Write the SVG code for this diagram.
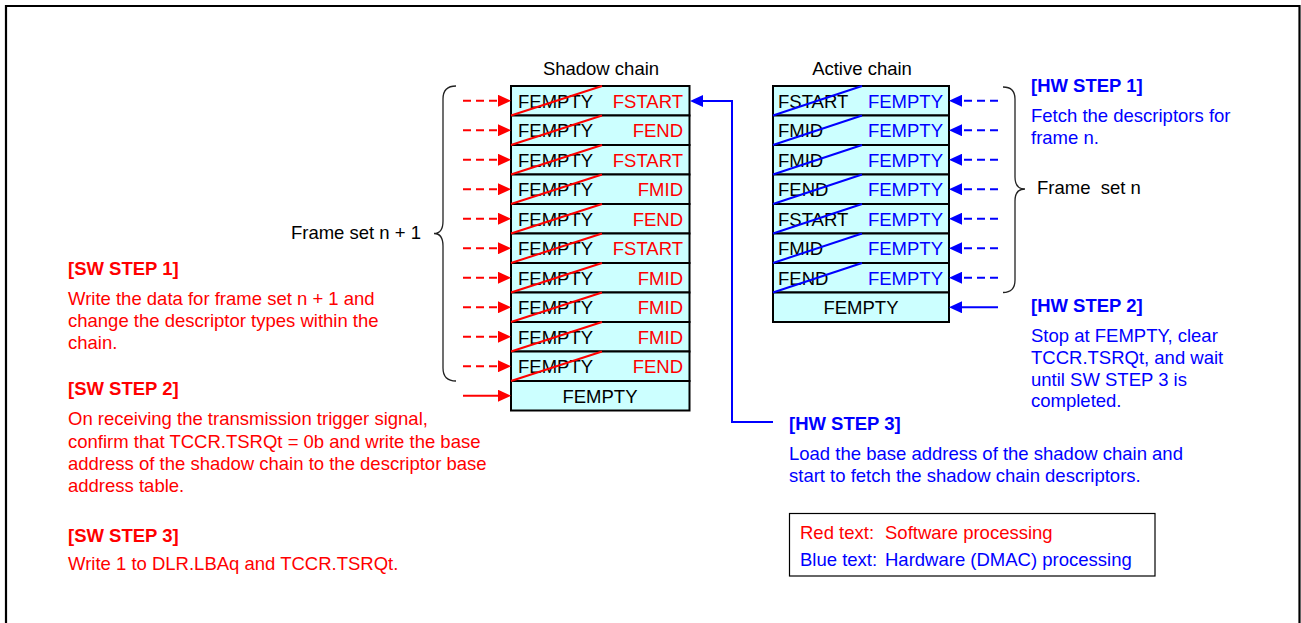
<svg xmlns="http://www.w3.org/2000/svg" width="1301" height="623" viewBox="0 0 1301 623">
<style>
text{font-family:"Liberation Sans",Arial,sans-serif;font-size:18.5px}
.k{fill:#000}
.r{fill:#FF0000}
.b{fill:#0000FF}
.h{font-weight:bold}
.e{text-anchor:end}
.m{text-anchor:middle}
.cell{fill:#CCFFFF;stroke:#000;stroke-width:2}
.dr{stroke:#FF0000;stroke-width:2;fill:none}
.db{stroke:#0000FF;stroke-width:2;fill:none}
.dash{stroke-dasharray:8 5}
.brace{fill:none;stroke:#222;stroke-width:1.3}
</style>
<defs>
<marker id="ahR" markerUnits="userSpaceOnUse" markerWidth="13" markerHeight="12" refX="0" refY="6" orient="auto"><path d="M0,0 L13,6 L0,12 Z" fill="#FF0000"/></marker>
<marker id="ahB" markerUnits="userSpaceOnUse" markerWidth="13" markerHeight="12" refX="0" refY="6" orient="auto"><path d="M0,0 L13,6 L0,12 Z" fill="#0000FF"/></marker>
</defs>
<rect x="0" y="0" width="1301" height="623" fill="#fff"/>
<path d="M6,630 V6 H1299.5 V630" fill="none" stroke="#000" stroke-width="2.2"/>

<g id="shadow-chain">
<text class="k m" x="601" y="75">Shadow chain</text>
<rect class="cell" x="511" y="86" width="178.5" height="29.5"/>
<rect class="cell" x="511" y="115.5" width="178.5" height="29.5"/>
<rect class="cell" x="511" y="145" width="178.5" height="29.5"/>
<rect class="cell" x="511" y="174.5" width="178.5" height="29.5"/>
<rect class="cell" x="511" y="204" width="178.5" height="29.5"/>
<rect class="cell" x="511" y="233.5" width="178.5" height="29.5"/>
<rect class="cell" x="511" y="263" width="178.5" height="29.5"/>
<rect class="cell" x="511" y="292.5" width="178.5" height="29.5"/>
<rect class="cell" x="511" y="322" width="178.5" height="29.5"/>
<rect class="cell" x="511" y="351.5" width="178.5" height="29.5"/>
<rect class="cell" x="511" y="381" width="178.5" height="29.5"/>
<g class="k">
<text x="518" y="107.5">FEMPTY</text>
<text x="518" y="137">FEMPTY</text>
<text x="518" y="166.5">FEMPTY</text>
<text x="518" y="196">FEMPTY</text>
<text x="518" y="225.5">FEMPTY</text>
<text x="518" y="255">FEMPTY</text>
<text x="518" y="284.5">FEMPTY</text>
<text x="518" y="314">FEMPTY</text>
<text x="518" y="343.5">FEMPTY</text>
<text x="518" y="373">FEMPTY</text>
<text class="m" x="600" y="402.5">FEMPTY</text>
</g>
<g class="r e">
<text x="683" y="107.5">FSTART</text>
<text x="683" y="137">FEND</text>
<text x="683" y="166.5">FSTART</text>
<text x="683" y="196">FMID</text>
<text x="683" y="225.5">FEND</text>
<text x="683" y="255">FSTART</text>
<text x="683" y="284.5">FMID</text>
<text x="683" y="314">FMID</text>
<text x="683" y="343.5">FMID</text>
<text x="683" y="373">FEND</text>
</g>
<g class="dr">
<path d="M511,115.5 L602,86"/>
<path d="M511,145 L602,115.5"/>
<path d="M511,174.5 L602,145"/>
<path d="M511,204 L602,174.5"/>
<path d="M511,233.5 L602,204"/>
<path d="M511,263 L602,233.5"/>
<path d="M511,292.5 L602,263"/>
<path d="M511,322 L602,292.5"/>
<path d="M511,351.5 L602,322"/>
<path d="M511,381 L602,351.5"/>
</g>
</g>

<g id="active-chain">
<text class="k m" x="862" y="75">Active chain</text>
<rect class="cell" x="773" y="86" width="176" height="29.5"/>
<rect class="cell" x="773" y="115.5" width="176" height="29.5"/>
<rect class="cell" x="773" y="145" width="176" height="29.5"/>
<rect class="cell" x="773" y="174.5" width="176" height="29.5"/>
<rect class="cell" x="773" y="204" width="176" height="29.5"/>
<rect class="cell" x="773" y="233.5" width="176" height="29.5"/>
<rect class="cell" x="773" y="263" width="176" height="29.5"/>
<rect class="cell" x="773" y="292.5" width="176" height="29.5"/>
<g class="k">
<text x="778" y="107.5">FSTART</text>
<text x="778" y="137">FMID</text>
<text x="778" y="166.5">FMID</text>
<text x="778" y="196">FEND</text>
<text x="778" y="225.5">FSTART</text>
<text x="778" y="255">FMID</text>
<text x="778" y="284.5">FEND</text>
<text class="m" x="861" y="314">FEMPTY</text>
</g>
<g class="b e">
<text x="943" y="107.5">FEMPTY</text>
<text x="943" y="137">FEMPTY</text>
<text x="943" y="166.5">FEMPTY</text>
<text x="943" y="196">FEMPTY</text>
<text x="943" y="225.5">FEMPTY</text>
<text x="943" y="255">FEMPTY</text>
<text x="943" y="284.5">FEMPTY</text>
</g>
<g class="db">
<path d="M773,115.5 L862,86"/>
<path d="M773,145 L862,115.5"/>
<path d="M773,174.5 L862,145"/>
<path d="M773,204 L862,174.5"/>
<path d="M773,233.5 L862,204"/>
<path d="M773,263 L862,233.5"/>
<path d="M773,292.5 L862,263"/>
</g>
</g>

<g id="brace-frame-set-n1">
<path class="brace" d="M456,86 Q443,86 443,99 V221 Q443,233.5 434,233.5 Q443,233.5 443,246 V368 Q443,381 456,381"/>
<text class="k e" x="421" y="239">Frame set n + 1</text>
</g>

<g id="brace-frame-set-n">
<path class="brace" d="M1003,87 Q1015,87 1015,99 V177 Q1015,189 1025,189 Q1015,189 1015,201 V280 Q1015,292.5 1003,292.5"/>
<text class="k" x="1037" y="194" xml:space="preserve">Frame  set n</text>
</g>

<g id="connectors">
<g class="dr dash">
<path d="M463,100.75 H498" marker-end="url(#ahR)"/>
<path d="M463,130.25 H498" marker-end="url(#ahR)"/>
<path d="M463,159.75 H498" marker-end="url(#ahR)"/>
<path d="M463,189.25 H498" marker-end="url(#ahR)"/>
<path d="M463,218.75 H498" marker-end="url(#ahR)"/>
<path d="M463,248.25 H498" marker-end="url(#ahR)"/>
<path d="M463,277.75 H498" marker-end="url(#ahR)"/>
<path d="M463,307.25 H498" marker-end="url(#ahR)"/>
<path d="M463,336.75 H498" marker-end="url(#ahR)"/>
<path d="M463,366.25 H498" marker-end="url(#ahR)"/>
</g>
<path class="dr" d="M463,395.75 H498" marker-end="url(#ahR)"/>
<g class="db dash">
<path d="M998,100.75 H962" marker-end="url(#ahB)"/>
<path d="M998,130.25 H962" marker-end="url(#ahB)"/>
<path d="M998,159.75 H962" marker-end="url(#ahB)"/>
<path d="M998,189.25 H962" marker-end="url(#ahB)"/>
<path d="M998,218.75 H962" marker-end="url(#ahB)"/>
<path d="M998,248.25 H962" marker-end="url(#ahB)"/>
<path d="M998,277.75 H962" marker-end="url(#ahB)"/>
</g>
<path class="db" d="M998,307.25 H962" marker-end="url(#ahB)"/>
<path class="db" d="M773,422 H732 V101 H703" marker-end="url(#ahB)"/>
</g>

<g id="sw-steps">
<text class="r h" x="68" y="275">[SW STEP 1]</text>
<text class="r" x="68" y="305">Write the data for frame set n + 1 and</text>
<text class="r" x="68" y="327">change the descriptor types within the</text>
<text class="r" x="68" y="349">chain.</text>
<text class="r h" x="68" y="395">[SW STEP 2]</text>
<text class="r" x="68" y="425">On receiving the transmission trigger signal,</text>
<text class="r" x="68" y="448">confirm that TCCR.TSRQt = 0b and write the base</text>
<text class="r" x="68" y="470">address of the shadow chain to the descriptor base</text>
<text class="r" x="68" y="492">address table.</text>
<text class="r h" x="68" y="542">[SW STEP 3]</text>
<text class="r" x="68" y="570">Write 1 to DLR.LBAq and TCCR.TSRQt.</text>
</g>

<g id="hw-steps">
<text class="b h" x="1031" y="92">[HW STEP 1]</text>
<text class="b" x="1031" y="122">Fetch the descriptors for</text>
<text class="b" x="1031" y="144">frame n.</text>
<text class="b h" x="1031" y="312">[HW STEP 2]</text>
<text class="b" x="1031" y="342">Stop at FEMPTY, clear</text>
<text class="b" x="1031" y="364">TCCR.TSRQt, and wait</text>
<text class="b" x="1031" y="386">until SW STEP 3 is</text>
<text class="b" x="1031" y="407">completed.</text>
<text class="b h" x="789" y="430">[HW STEP 3]</text>
<text class="b" x="789" y="460">Load the base address of the shadow chain and</text>
<text class="b" x="789" y="482">start to fetch the shadow chain descriptors.</text>
</g>

<g id="legend">
<rect x="789.5" y="513.5" width="365.5" height="62.5" fill="#fff" stroke="#000" stroke-width="1.2"/>
<text class="r" x="800" y="539">Red text:</text>
<text class="r" x="885" y="539">Software processing</text>
<text class="b" x="800" y="566">Blue text:</text>
<text class="b" x="885" y="566">Hardware (DMAC) processing</text>
</g>
</svg>
